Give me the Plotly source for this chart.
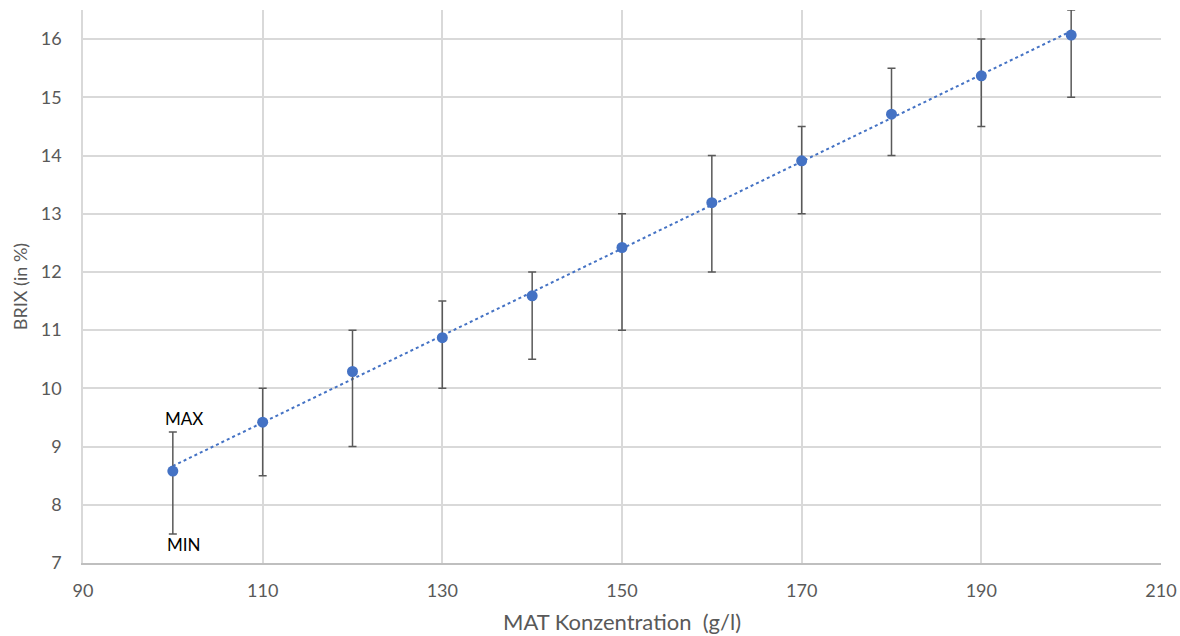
import numpy as np
import plotly.graph_objects as go

concentration = [100, 110, 120, 130, 140, 150, 160, 170, 180, 190, 200]
brix_mean = [8.58, 9.42, 10.29, 10.87, 11.59, 12.42, 13.19, 13.91, 14.71, 15.37, 16.07]
brix_max = [9.25, 10.0, 11.0, 11.5, 12.0, 13.0, 14.0, 14.5, 15.5, 16.0, 16.5]
brix_min = [7.5, 8.5, 9.0, 10.0, 10.5, 11.0, 12.0, 13.0, 14.0, 14.5, 15.0]

err_plus = [mx - m for mx, m in zip(brix_max, brix_mean)]
err_minus = [m - mn for mn, m in zip(brix_min, brix_mean)]

# linear trendline through the mean values
slope, intercept = np.polyfit(concentration, brix_mean, 1)
trend_x = [concentration[0], concentration[-1]]
trend_y = [slope * x + intercept for x in trend_x]

font_family = "Lato, 'Open Sans', sans-serif"

fig = go.Figure()
fig.add_trace(go.Scatter(
    x=trend_x, y=trend_y, mode="lines",
    line=dict(color="#4472C4", width=2, dash="dot"),
    hoverinfo="skip", showlegend=False,
))
fig.add_trace(go.Scatter(
    x=concentration, y=brix_mean, mode="markers",
    marker=dict(color="#4472C4", size=11),
    error_y=dict(type="data", symmetric=False, array=err_plus, arrayminus=err_minus,
                 color="#595959", thickness=1.5, width=4),
    showlegend=False, cliponaxis=False,
))

fig.add_annotation(x=101.2, y=9.49, text="MAX", showarrow=False,
                   font=dict(family=font_family, size=17, color="#000000"))
fig.add_annotation(x=101.2, y=7.31, text="MIN", showarrow=False,
                   font=dict(family=font_family, size=17, color="#000000"))

fig.update_layout(
    width=1180, height=636,
    margin=dict(l=83, r=19, t=10, b=73),
    paper_bgcolor="white", plot_bgcolor="white",
    font=dict(family=font_family, size=18, color="#595959"),
    xaxis=dict(
        range=[90, 210], tick0=90, dtick=20, showgrid=True, gridcolor="#D9D9D9", gridwidth=1.5,
        zeroline=False, showline=True, linecolor="#BFBFBF", linewidth=1.5, mirror=False,
        ticks="", ticklabelstandoff=11, automargin=False,
        title=dict(text="MAT Konzentration  (g/l)", font=dict(size=22, color="#595959"), standoff=14),
    ),
    yaxis=dict(
        range=[7, 16.5], tick0=7, dtick=1, showgrid=True, gridcolor="#D9D9D9", gridwidth=1.5,
        zeroline=False, showline=True, linecolor="#D9D9D9", linewidth=1.5,
        ticks="", ticklabelstandoff=16, automargin=False,
        title=dict(text="BRIX (in %)", font=dict(size=18, color="#595959"), standoff=8),
    ),
)

fig.write_html(
    "out.html",
    config={"displayModeBar": False},
    post_script="document.body.style.margin='0';document.body.style.overflow='hidden';",
)
